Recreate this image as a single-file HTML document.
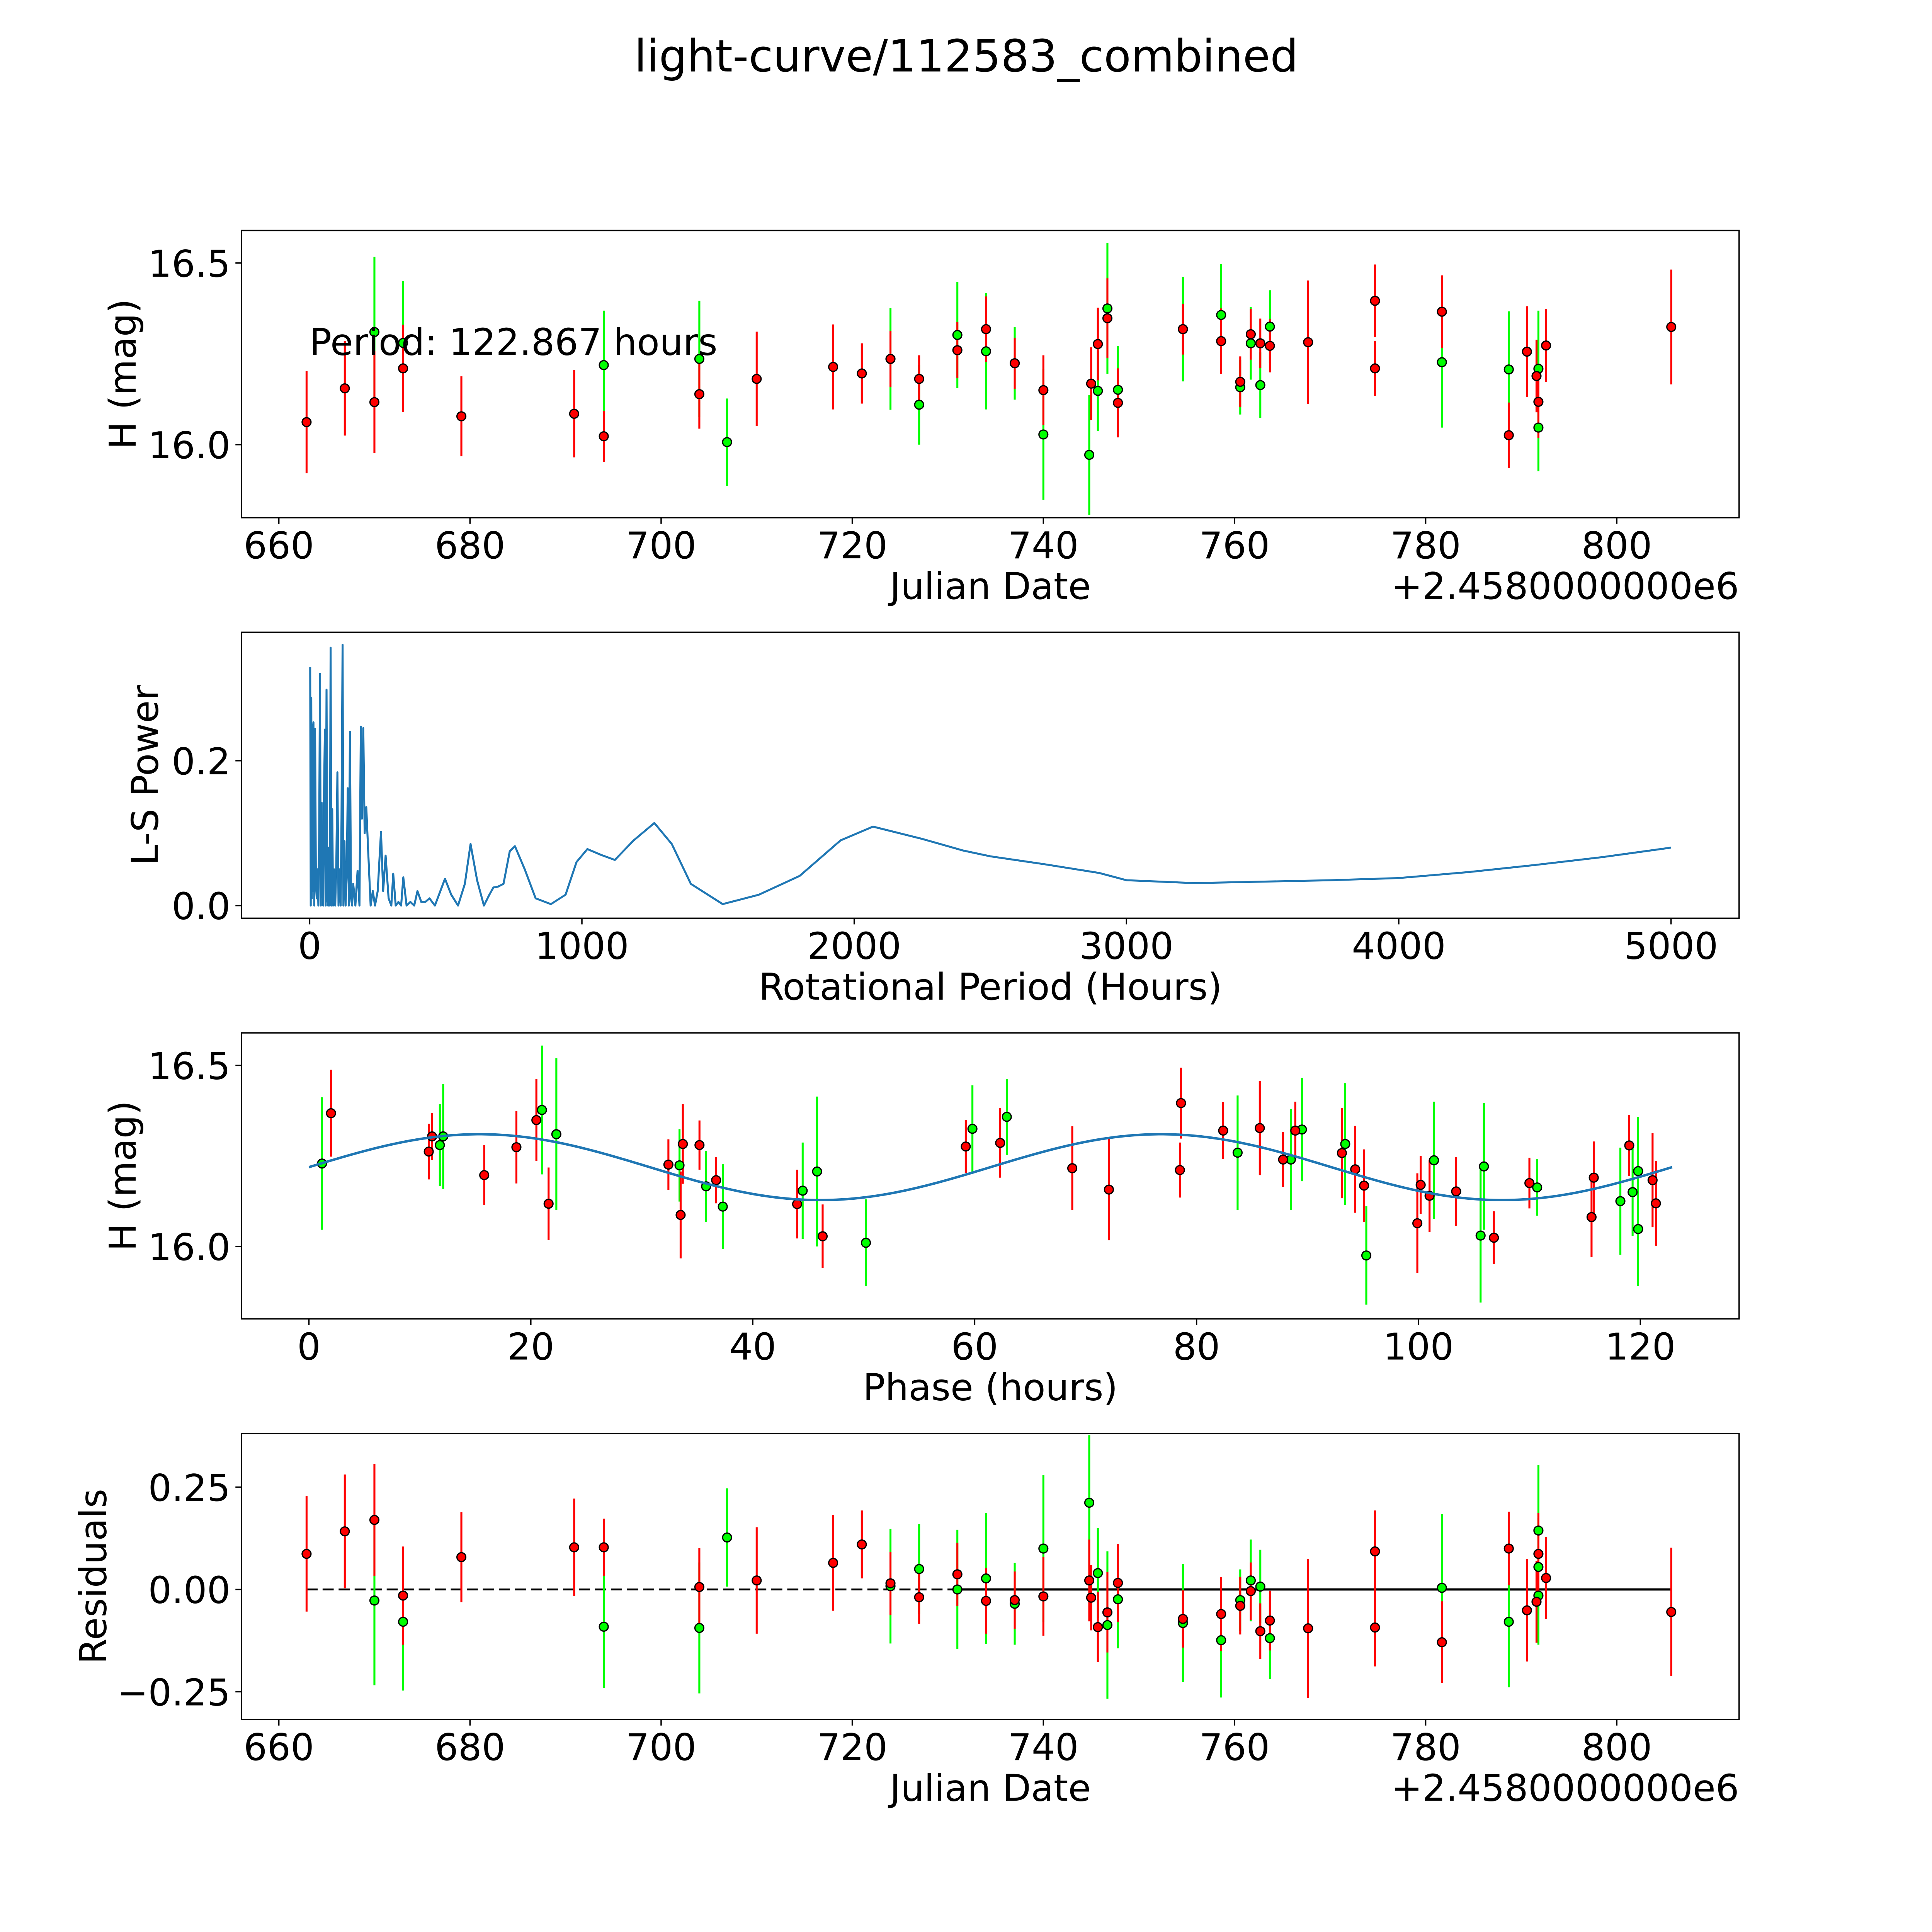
<!DOCTYPE html>
<html><head><meta charset="utf-8"><title>light-curve/112583_combined</title>
<style>html,body{margin:0;padding:0;background:#fff;width:100%;height:100%;overflow:hidden}svg{display:block;position:fixed;left:0;top:0;width:100vw;height:100vh}text{font-family:"DejaVu Sans","Liberation Sans",sans-serif;fill:#000}</style>
</head><body>
<svg id="fig" xmlns="http://www.w3.org/2000/svg" viewBox="0 0 1567.5 1567.5" preserveAspectRatio="xMinYMin meet">
<rect x="0" y="0" width="1567.5" height="1567.5" fill="#fff"/>
<text x="784" y="58" font-size="36" text-anchor="middle">light-curve/112583_combined</text>
<g id="p1"></g>
<g id="p2"></g>
<g id="p3"></g>
<g id="p4"></g>
</svg>
<script>
// ---------- Panel 1: light curve (JD - 2458000) ----------
const lcRedJD  = [662.9,666.9,670.0,673.0,679.1,690.9,694.0,704.0,710.0,718.0,721.0,724.0,727.0,731.0,734.0,737.0,740.0,745.0,745.7,746.7,747.8,754.6,758.6,760.6,761.7,762.7,763.7,767.7,774.7,774.7,781.7,788.7,790.6,791.6,791.8,792.6,805.7];
const lcRedMag = [16.062,16.155,16.117,16.21,16.078,16.085,16.023,16.139,16.181,16.214,16.196,16.236,16.181,16.26,16.318,16.224,16.15,16.168,16.277,16.348,16.115,16.318,16.285,16.173,16.304,16.279,16.272,16.282,16.396,16.21,16.366,16.026,16.256,16.189,16.118,16.273,16.324];
const lcRedErr = [0.141,0.13,0.14,0.12,0.11,0.12,0.07,0.095,0.13,0.117,0.083,0.077,0.065,0.077,0.09,0.07,0.096,0.1,0.1,0.11,0.095,0.07,0.09,0.07,0.07,0.068,0.073,0.17,0.1,0.076,0.1,0.09,0.125,0.1,0.1,0.1,0.158];
const lcGrnJD  = [670.0,673.0,694.0,704.0,706.9,724.0,727.0,731.0,734.0,737.0,740.0,744.8,745.7,746.7,747.8,754.6,758.6,760.6,761.7,762.7,763.7,781.7,788.7,791.8,791.8];
const lcGrnMag = [16.31,16.28,16.219,16.236,16.007,16.236,16.11,16.302,16.257,16.224,16.028,15.972,16.148,16.375,16.151,16.318,16.357,16.158,16.279,16.164,16.325,16.227,16.207,16.209,16.047];
const lcGrnErr = [0.207,0.17,0.15,0.16,0.12,0.14,0.11,0.146,0.16,0.1,0.18,0.165,0.11,0.18,0.12,0.144,0.14,0.075,0.1,0.09,0.1,0.18,0.16,0.16,0.12];
const lcYTicks = [16.0,16.5];
const lcYTickLabels = ["16.0","16.5"];
const jdTicks = [660,680,700,720,740,760,780,800];
const jdTickLabels = ["660","680","700","720","740","760","780","800"];

// ---------- Panel 2: Lomb-Scargle periodogram ----------
const lsPeriod = [2,4,6,8,10,12,14,17,20,23,26,29,32,35,38,41,44,47,50,53,56,59,62,65,68,71,74,77,80,83,86,90,94,98,102,106,110,114,117,121,124,128,132,136,140,144,148,152,156,160,168,176,183,188,192,197,202,208,215,224,232,240,250,262,270,279,290,300,307,316,326,336,344,356,370,384,396,410,425,440,460,480,497,520,545,570,591,615,640,660,675,691,712,735,754,790,830,886,940,980,1020,1070,1121,1190,1266,1330,1400,1517,1650,1800,1950,2069,2250,2400,2500,2700,2900,3000,3250,3500,3750,4000,4250,4500,4750,5000];
const lsPower  = [0.329,0.0,0.287,0.01,0.25,0.02,0.253,0.0,0.244,0.03,0.01,0.05,0.0,0.10,0.32,0.0,0.142,0.02,0.0,0.162,0.243,0.0,0.298,0.01,0.0,0.08,0.0,0.356,0.0,0.133,0.0,0.05,0.0,0.06,0.184,0.0,0.05,0.0,0.12,0.36,0.0,0.089,0.0,0.04,0.162,0.0,0.24,0.01,0.0,0.03,0.0,0.048,0.0,0.247,0.12,0.245,0.1,0.136,0.075,0.0,0.02,0.0,0.02,0.102,0.02,0.069,0.01,0.0,0.044,0.0,0.005,0.0,0.039,0.0,0.005,0.0,0.02,0.005,0.005,0.01,0.0,0.02,0.037,0.015,0.0,0.03,0.085,0.035,0.0,0.015,0.025,0.026,0.03,0.075,0.082,0.05,0.01,0.002,0.015,0.06,0.078,0.07,0.063,0.09,0.114,0.085,0.03,0.002,0.015,0.041,0.09,0.109,0.092,0.076,0.068,0.057,0.045,0.035,0.031,0.033,0.035,0.038,0.046,0.056,0.067,0.08];
const lsXTicks = [0,1000,2000,3000,4000,5000];
const lsXTickLabels = ["0","1000","2000","3000","4000","5000"];
const lsYTicks = [0.0,0.2];
const lsYTickLabels = ["0.0","0.2"];

// ---------- Panel 3: phase folded ----------
const phRedPh  = [1.99,10.8,11.1,15.8,18.7,20.5,21.6,32.4,33.7,33.5,35.2,36.7,44.0,46.3,59.2,62.3,68.8,72.1,78.6,78.5,82.4,85.7,87.8,88.9,93.1,94.3,95.1,99.9,100.2,101.0,103.4,106.8,110.0,115.6,115.8,119.0,121.1,121.4];
const phRedMag = [16.368,16.262,16.304,16.197,16.274,16.349,16.118,16.226,16.283,16.087,16.28,16.183,16.117,16.028,16.276,16.286,16.216,16.157,16.396,16.211,16.32,16.327,16.24,16.32,16.258,16.213,16.168,16.064,16.17,16.14,16.152,16.024,16.175,16.081,16.19,16.279,16.183,16.119];
const phRedErr = [0.12,0.077,0.065,0.083,0.1,0.113,0.1,0.07,0.11,0.12,0.068,0.064,0.095,0.088,0.073,0.096,0.116,0.14,0.098,0.076,0.079,0.13,0.076,0.08,0.125,0.12,0.1,0.138,0.08,0.1,0.095,0.073,0.07,0.11,0.1,0.084,0.13,0.117];
const phGrnPh  = [1.18,11.8,12.1,21.0,22.3,33.4,35.8,37.3,44.5,45.8,50.2,59.8,62.9,83.7,88.5,89.5,93.4,95.3,101.4,105.6,105.9,110.7,118.2,119.3,119.8,119.8];
const phGrnMag = [16.229,16.28,16.304,16.377,16.31,16.224,16.166,16.11,16.154,16.207,16.01,16.325,16.358,16.259,16.24,16.323,16.283,15.975,16.238,16.03,16.221,16.163,16.125,16.15,16.208,16.048];
const phGrnErr = [0.183,0.113,0.145,0.178,0.21,0.1,0.098,0.117,0.133,0.207,0.12,0.12,0.105,0.158,0.14,0.143,0.168,0.136,0.162,0.185,0.175,0.078,0.148,0.121,0.15,0.157];
const modelMean = 16.219, modelAmp = 0.091, modelPeriod = 61.43, foldPeriod = 122.867;
const phXTicks = [0,20,40,60,80,100,120];
const phXTickLabels = ["0","20","40","60","80","100","120"];

// ---------- Panel 4: residuals ----------
const rsRedJD  = [662.9,666.9,670.0,673.0,679.1,690.9,694.0,704.0,710.0,718.0,721.0,724.0,727.0,731.0,734.0,737.0,740.0,744.8,745.0,745.7,746.7,747.8,754.6,758.6,760.6,761.7,762.7,763.7,767.7,774.7,774.7,781.7,788.7,790.6,791.6,791.8,792.6,805.7];
const rsRedVal = [0.087,0.142,0.17,-0.015,0.079,0.103,0.103,0.006,0.022,0.065,0.11,0.015,-0.019,0.037,-0.028,-0.026,-0.017,0.022,-0.02,-0.092,-0.056,0.016,-0.072,-0.06,-0.04,-0.004,-0.102,-0.076,-0.095,0.093,-0.093,-0.129,0.1,-0.051,-0.03,0.087,0.028,-0.055];
const rsRedErr = [0.141,0.139,0.137,0.12,0.11,0.119,0.07,0.095,0.13,0.117,0.083,0.077,0.065,0.077,0.08,0.07,0.096,0.1,0.08,0.085,0.098,0.095,0.07,0.09,0.07,0.07,0.068,0.073,0.17,0.1,0.095,0.1,0.09,0.125,0.1,0.1,0.1,0.157];
const rsGrnJD  = [670.0,673.0,694.0,704.0,706.9,724.0,727.0,731.0,734.0,737.0,740.0,744.8,745.7,746.7,747.8,754.6,758.6,760.6,761.7,762.7,763.7,781.7,788.7,791.8,791.8,791.8];
const rsGrnVal = [-0.027,-0.079,-0.091,-0.094,0.127,0.008,0.05,0.0,0.027,-0.035,0.1,0.212,0.04,-0.087,-0.024,-0.082,-0.124,-0.026,0.022,0.007,-0.119,0.004,-0.079,0.144,0.055,-0.015];
const rsGrnErr = [0.207,0.168,0.15,0.16,0.12,0.14,0.11,0.146,0.16,0.1,0.18,0.165,0.11,0.18,0.12,0.144,0.14,0.075,0.1,0.09,0.1,0.18,0.16,0.16,0.12,0.12];
const rsYTicks = [-0.25,0.0,0.25];
const rsYTickLabels = ["\u22120.25","0.00","0.25"];
const rsSolidStart = 731.0;

// ---------- helpers ----------
const NS = "http://www.w3.org/2000/svg";
function mk(tag, attrs, parent){ const e=document.createElementNS(NS,tag); for(const k in attrs) e.setAttribute(k,attrs[k]); parent.appendChild(e); return e; }
function scale(d0,d1,r0,r1){ return v => r0 + (v-d0)*(r1-r0)/(d1-d0); }
const L=196, R=1411;

function frame(g, top, bot, xs, ys, xt, xtl, yt, ytl, xlabel, ylabel, ylabX){
  const fr = mk('rect',{x:L,y:top,width:R-L,height:bot-top,fill:'none',stroke:'#000','stroke-width':1.1},g);
  
  
  xt.forEach((v,i)=>{
    const x=xs(v);
    const t=mk('line',{x1:x,y1:bot,x2:x,y2:bot+5,stroke:'#000','stroke-width':1.1},g);
    
    
    const l=mk('text',{x:x,y:bot+33,'font-size':30,'text-anchor':'middle'},g); l.textContent=xtl[i];
    
    
  });
  yt.forEach((v,i)=>{
    const y=ys(v);
    const t=mk('line',{x1:L-5,y1:y,x2:L,y2:y,stroke:'#000','stroke-width':1.1},g);
    
    
    const l=mk('text',{x:L-9,y:y+11,'font-size':30,'text-anchor':'end'},g); l.textContent=ytl[i];
    
    
  });
  const xl=mk('text',{x:(L+R)/2,y:bot+66,'font-size':30,'text-anchor':'middle'},g); xl.textContent=xlabel;
  
  
  const cy=(top+bot)/2;
  const yl=mk('text',{x:ylabX,y:cy,'font-size':30,'text-anchor':'middle',transform:`rotate(-90 ${ylabX} ${cy})`},g); yl.textContent=ylabel;
  
  
}
function errBars(g, xsArr, ysArr, esArr, xs, ys, color, name){
  xsArr.forEach((v,i)=>{
    const b=mk('line',{x1:xs(v),x2:xs(v),y1:ys(ysArr[i]+esArr[i]),y2:ys(ysArr[i]-esArr[i]),stroke:color,'stroke-width':1.6},g);
    
    
  });
}
function markers(g, xsArr, ysArr, xs, ys, color, name){
  xsArr.forEach((v,i)=>{
    const c=mk('circle',{cx:xs(v),cy:ys(ysArr[i]),r:3.6,fill:color,stroke:'#000','stroke-width':1},g);
    
    
  });
}

// ---------- Panel 1 ----------
(function(){
  const g=document.getElementById('p1'), top=187, bot=420;
  const xs=scale(656.1,812.8,L,R), ys=scale(15.799,16.5896,bot,top);
  frame(g,top,bot,xs,ys,jdTicks,jdTickLabels,lcYTicks,lcYTickLabels,'Julian Date','H (mag)',110);
  const off=mk('text',{x:R,y:486,'font-size':30,'text-anchor':'end'},g); off.textContent='+2.4580000000e6';
  
  
  errBars(g,lcGrnJD,lcGrnMag,lcGrnErr,xs,ys,'#00ff00','green');
  errBars(g,lcRedJD,lcRedMag,lcRedErr,xs,ys,'#ff0000','red');
  markers(g,lcGrnJD,lcGrnMag,xs,ys,'#00ff00','green');
  markers(g,lcRedJD,lcRedMag,xs,ys,'#ff0000','red');
  const pt=mk('text',{x:251,y:288,'font-size':30},g); pt.textContent='Period: 122.867 hours';
  
  
})();

// ---------- Panel 2 ----------
(function(){
  const g=document.getElementById('p2'), top=513, bot=745;
  const xs=scale(-250,5250,L,R), ys=scale(-0.0175,0.3773,bot,top);
  frame(g,top,bot,xs,ys,lsXTicks,lsXTickLabels,lsYTicks,lsYTickLabels,'Rotational Period (Hours)','L-S Power',128);
  const pts=lsPeriod.map((p,i)=>xs(p).toFixed(2)+','+ys(lsPower[i]).toFixed(2)).join(' ');
  const pl=mk('polyline',{points:pts,fill:'none',stroke:'#1f77b4','stroke-width':1.6,'stroke-linejoin':'round'},g);
  
  
})();

// ---------- Panel 3 ----------
(function(){
  const g=document.getElementById('p3'), top=838, bot=1070;
  const xs=scale(-6.07,128.9,L,R), ys=scale(15.80,16.59,bot,top);
  frame(g,top,bot,xs,ys,phXTicks,phXTickLabels,lcYTicks,lcYTickLabels,'Phase (hours)','H (mag)',110);
  errBars(g,phGrnPh,phGrnMag,phGrnErr,xs,ys,'#00ff00','green');
  errBars(g,phRedPh,phRedMag,phRedErr,xs,ys,'#ff0000','red');
  const pts=[];
  for(let i=0;i<=300;i++){ const p=foldPeriod*i/300; pts.push(xs(p).toFixed(2)+','+ys(modelMean+modelAmp*Math.sin(2*Math.PI*p/modelPeriod)).toFixed(2)); }
  markers(g,phGrnPh,phGrnMag,xs,ys,'#00ff00','green');
  markers(g,phRedPh,phRedMag,xs,ys,'#ff0000','red');
  const pl=mk('polyline',{points:pts.join(' '),fill:'none',stroke:'#1f77b4','stroke-width':2},g);
  
  
})();

// ---------- Panel 4 ----------
(function(){
  const g=document.getElementById('p4'), top=1163, bot=1395;
  const xs=scale(656.1,812.8,L,R), ys=scale(-0.3175,0.3813,bot,top);
  frame(g,top,bot,xs,ys,jdTicks,jdTickLabels,rsYTicks,rsYTickLabels,'Julian Date','Residuals',86);
  const off=mk('text',{x:R,y:1461,'font-size':30,'text-anchor':'end'},g); off.textContent='+2.4580000000e6';
  
  
  const allJD=rsRedJD.concat(rsGrnJD);
  const x0=Math.min(...allJD), x1=Math.max(...allJD);
  const dl=mk('line',{x1:xs(x0),x2:xs(x1),y1:ys(0),y2:ys(0),stroke:'#000','stroke-width':1.5,'stroke-dasharray':'9 4'},g);
  
  
  const sl=mk('line',{x1:xs(rsSolidStart),x2:xs(x1),y1:ys(0),y2:ys(0),stroke:'#000','stroke-width':1.8},g);
  
  
  errBars(g,rsGrnJD,rsGrnVal,rsGrnErr,xs,ys,'#00ff00','green');
  errBars(g,rsRedJD,rsRedVal,rsRedErr,xs,ys,'#ff0000','red');
  markers(g,rsGrnJD,rsGrnVal,xs,ys,'#00ff00','green');
  markers(g,rsRedJD,rsRedVal,xs,ys,'#ff0000','red');
})();
</script>
</body></html>
